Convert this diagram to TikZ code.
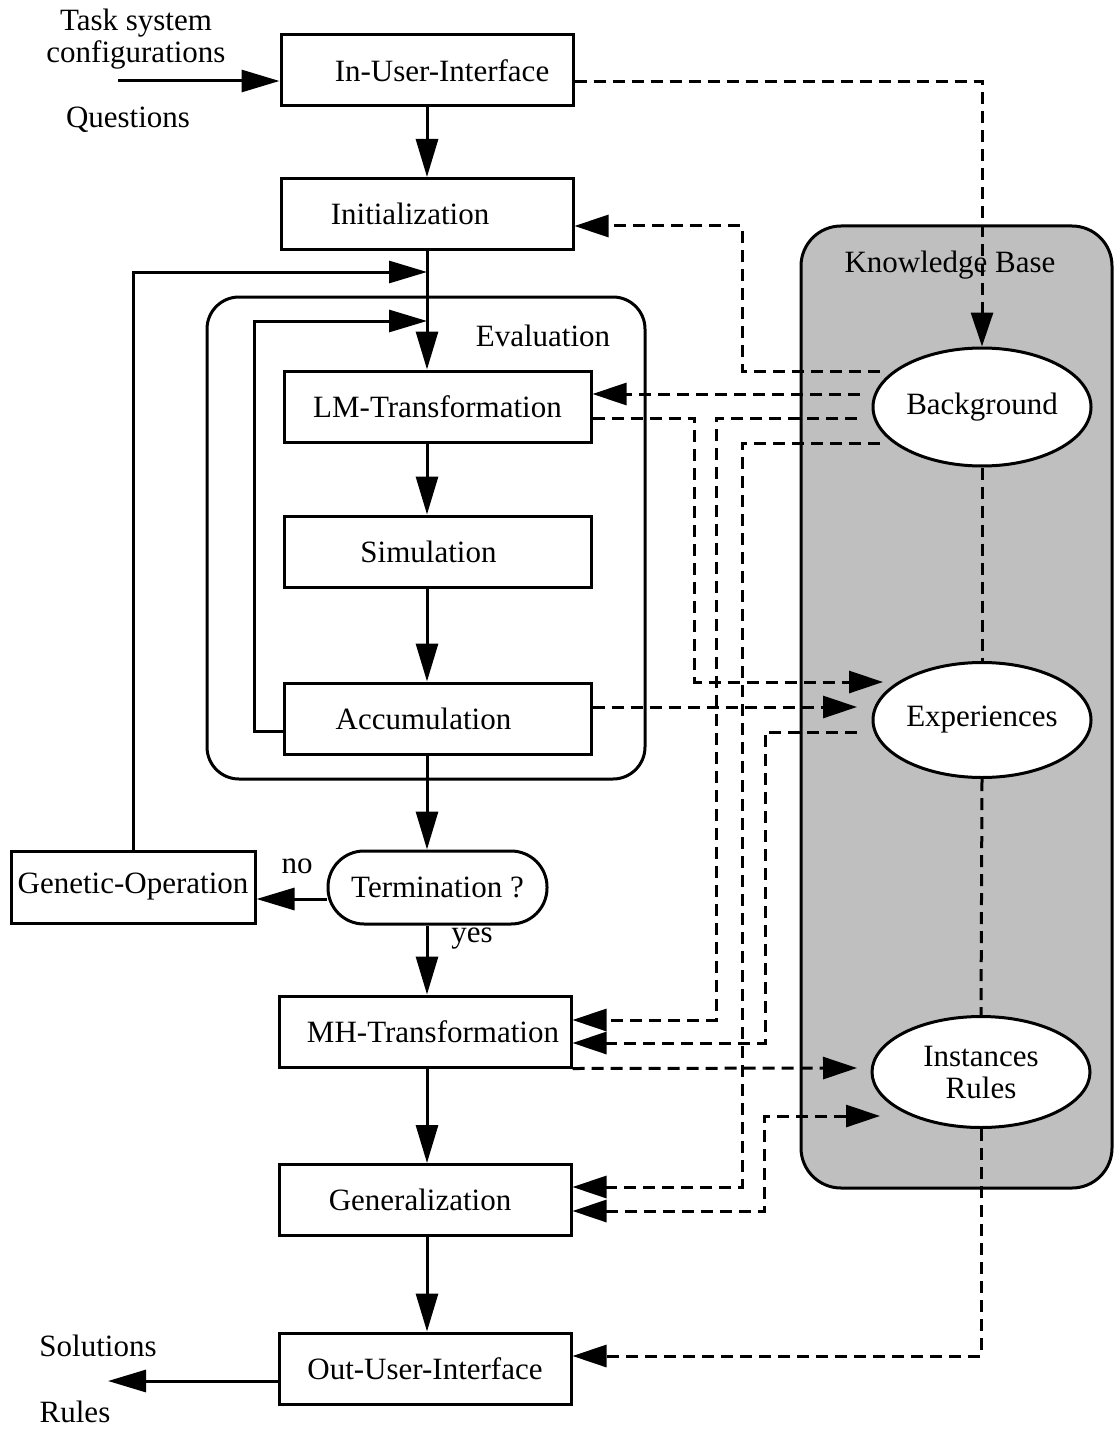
\documentclass[tikz,border=0pt]{standalone}
\usepackage{fontspec}
\setmainfont{Liberation Serif}
\usetikzlibrary{arrows.meta,shapes.geometric}
\begin{document}
\begin{tikzpicture}[x=1pt,y=-1pt,
  every node/.style={font=\fontsize{31}{32}\selectfont},
  box/.style={draw,line width=3pt,minimum width=292pt,minimum height=71pt,inner sep=2pt,fill=white},
  ell/.style={draw,ellipse,line width=3pt,fill=white,inner sep=0pt,minimum width=218pt,minimum height=115pt},
  sline/.style={line width=3pt,-{Triangle[length=38pt,width=22pt]}},
  dline/.style={line width=3pt,dash pattern=on 12pt off 7pt,-{Triangle[length=34pt,width=22pt]}},
  dplain/.style={line width=3pt,dash pattern=on 12pt off 7pt},
  lab/.style={inner sep=0pt}
]
\useasboundingbox (0,0) rectangle (1114,1431);

% containers
\node[draw,line width=3pt,rounded corners=32pt,minimum width=438pt,minimum height=482pt] (ev) at (426,538) {};
\node[draw,line width=3pt,rounded corners=40pt,fill=gray!50,minimum width=311pt,minimum height=962pt] (kb) at (956.5,707) {};
\node[lab] (evl) at (543,336) {Evaluation};
\node[lab] (kbl) at (950,265) {Knowledge Base};

% knowledge items
\node[ell,minimum height=118pt] (bg) at (982,407) {Background};
\node[ell] (exp) at (982,720) {Experiences};
\node[ell,minimum height=111pt,align=center] (ir) at (981,1072) {Instances\\Rules};

% process boxes
\node[box] (iui) at (427,70.5) {\hspace*{30pt}In-User-Interface};
\node[box] (init) at (427,214) {Initialization\hspace*{34pt}};
\node[box,minimum width=307pt] (lm) at (437.5,406.5) {LM-Transformation};
\node[box,minimum width=307pt] (sim) at (437.5,551.5) {Simulation\hspace*{18pt}};
\node[box,minimum width=307pt] (acc) at (437.5,718.5) {Accumulation\hspace*{28pt}};
\node[box,rounded corners=36pt,minimum width=219pt,minimum height=73pt] (term) at (437.5,887.5) {Termination ?};
\node[box,minimum width=244pt,minimum height=72pt] (go) at (133,887) {\raisebox{-3pt}{Genetic-Operation}};
\node[box] (mh) at (425,1031.5) {\hspace*{16pt}MH-Transformation};
\node[box] (gen) at (425,1200) {Generalization\hspace*{10pt}};
\node[box] (out) at (425,1368.5) {Out-User-Interface};

% free labels
\node[lab,align=center] (tsc) at (136,39) {Task system\\configurations};
\node[lab] (q) at (128,120) {Questions};
\node[lab] (no) at (297,866) {no};
\node[lab] (yes) at (472,939) {yes};
\node[lab] (sol) at (98,1346) {Solutions};
\node[lab] (rul) at (75,1412) {Rules};

% coordinates
\coordinate (in0) at (118,81);
\coordinate (o0) at (108,1381);
\coordinate (m1) at (427,272);
\coordinate (m2) at (427,321);
\coordinate (b1) at (880,371);
\coordinate (b2) at (860,394);
\coordinate (b3) at (857,418);
\coordinate (b4) at (880,443);
\coordinate (e1) at (883,682);
\coordinate (e2) at (857,707);
\coordinate (e3) at (857,732);
\coordinate (i1) at (857,1068);
\coordinate (i2) at (880,1116);
\coordinate (t1) at ([yshift=-11.5pt]term.west);
\coordinate (u1) at ([yshift=-12.5pt]out.west);

% solid flow
\draw[sline] (in0) -- (in0 -| iui.west);
\draw[sline] (iui.south) -- (init.north);
\draw[sline] (init.south) -- (init.south |- lm.north);
\draw[sline] (go.north) |- (m1);
\draw[sline] ([yshift=-12.5pt]acc.west) -- ++(-28,0) |- (m2);
\draw[sline] (lm.south -| m1) -- (sim.north -| m1);
\draw[sline] (sim.south -| m1) -- (acc.north -| m1);
\draw[sline] (acc.south -| m1) -- (term.north -| m1);
\draw[sline] (t1) -- (t1 -| go.east);
\draw[sline] (term.south -| m1) -- (mh.north -| m1);
\draw[sline] (mh.south -| m1) -- (gen.north -| m1);
\draw[sline] (gen.south -| m1) -- (out.north -| m1);
\draw[sline] (u1) -- (o0);

% dashed knowledge flow
\draw[dline] ([yshift=-11.5pt]iui.east) -| (bg.north);
\draw[dline] (b1) -- ++(-138,0) |- ([yshift=-12pt]init.east);
\draw[dline] (b2) -- (b2 -| lm.east);
\draw[dline] ([yshift=-11.5pt]lm.east) -- ++(102,0) |- (e1);
\draw[dline] (b3) -- ++(-141,0) |- ([yshift=11.5pt]mh.east);
\draw[dline] (b4) -- ++(-138,0) |- ([yshift=13pt]gen.east);
\draw[dline] ([yshift=11.5pt]acc.east) -- (e2);
\draw[dline] (e3) -- ++(-92,0) |- ([yshift=-11.5pt]mh.east);
\draw[dline] (mh.south east) -- (i1);
\draw[dline,{Triangle[length=34pt,width=22pt]}-{Triangle[length=34pt,width=22pt]}] ([yshift=-11pt]gen.east) -- ++(192,0) |- (i2);
\draw[dline] (ir.south) |- ([yshift=12.5pt]out.east);
\draw[dplain] (bg.south) -- (exp.north);
\draw[dplain] (exp.south) -- (ir.north);
\end{tikzpicture}
\end{document}
